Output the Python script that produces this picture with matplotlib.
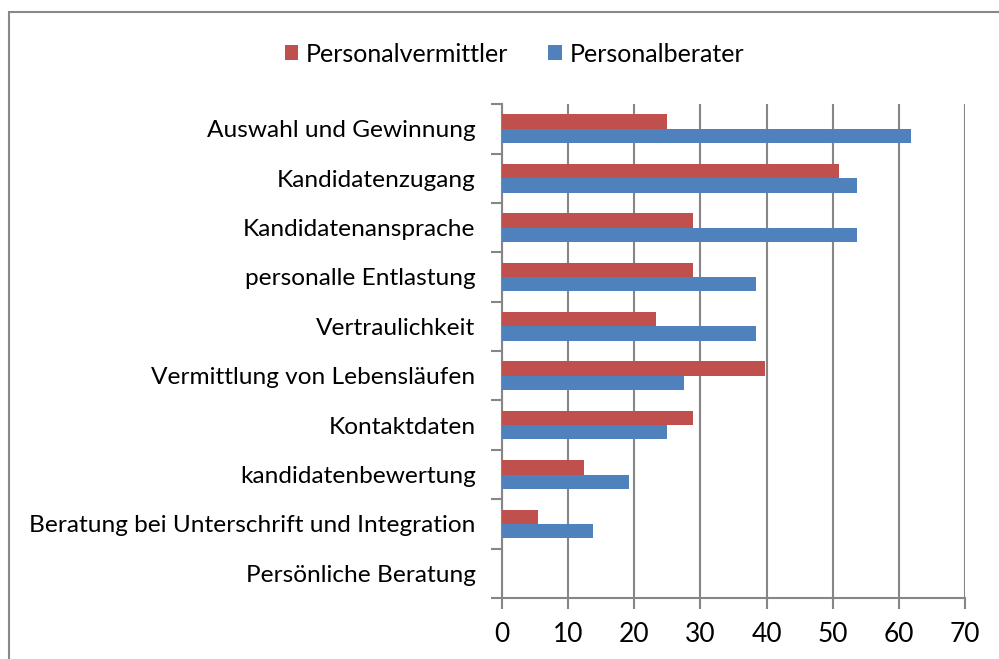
#!/usr/bin/env python3
import matplotlib
matplotlib.use("Agg")
import matplotlib.pyplot as plt
import numpy as np
from matplotlib.patches import Rectangle

# Categories from top to bottom
categories = [
    'Auswahl und Gewinnung',
    'Kandidatenzugang',
    'Kandidatenansprache',
    'personalle Entlastung',
    'Vertraulichkeit',
    'Vermittlung von Lebensläufen',
    'Kontaktdaten',
    'kandidatenbewertung',
    'Beratung bei Unterschrift und Integration',
    'Persönliche Beratung',
]
vermittler = [25, 50.9, 28.8, 28.8, 23.3, 39.8, 28.8, 12.4, 5.4, 0]
berater = [61.9, 53.6, 53.6, 38.4, 38.4, 27.5, 24.9, 19.2, 13.7, 0]
x_ticks = [0, 10, 20, 30, 40, 50, 60, 70]

RED = '#C0504D'
BLUE = '#4F81BD'
GRID = '#868686'

plt.rcParams['font.family'] = ['Lato', 'DejaVu Sans']

fig = plt.figure(figsize=(9.99, 6.59), dpi=100)
ax = fig.add_axes([0.5025, 0.0926, 0.4635, 0.7494])

pos = np.arange(len(categories))
h = 0.29
ax.barh(pos - h / 2, vermittler, h, color=RED, label='Personalvermittler', zorder=3)
ax.barh(pos + h / 2, berater, h, color=BLUE, label='Personalberater', zorder=3)

ax.set_xlim(0, 70)
ax.set_ylim(len(categories) - 0.5, -0.5)

# x axis
ax.set_xticks(x_ticks)
ax.set_xticklabels([str(v) for v in x_ticks], fontsize=19)
ax.xaxis.grid(True, color=GRID, linewidth=1.5, zorder=0)
ax.tick_params(axis='x', length=8, width=1.5, color=GRID, pad=9)

# y axis: ticks at category boundaries, labels at centers
ax.set_yticks(np.arange(-0.5, len(categories)), minor=False)
ax.set_yticklabels([])
ax.set_yticks(pos, minor=True)
ax.set_yticklabels(categories, minor=True, fontsize=17.6)
ax.tick_params(axis='y', which='major', length=8, width=1.5, color=GRID)
ax.tick_params(axis='y', which='minor', length=0, pad=19)

for side in ['top', 'right']:
    ax.spines[side].set_visible(False)
for side in ['left', 'bottom']:
    ax.spines[side].set_color(GRID)
    ax.spines[side].set_linewidth(1.5)

fig.legend(loc='center', bbox_to_anchor=(0.515, 0.918), ncol=2, frameon=False,
           fontsize=18, handlelength=0.55, handleheight=0.55, handletextpad=0.3,
           columnspacing=1.6)

# outer chart border
fig.add_artist(Rectangle((0.009, -0.1), 1.2, 1.1 - 12 / 659, transform=fig.transFigure,
                         fill=False, edgecolor='#888888', linewidth=1.5))

plt.savefig('out.png', dpi=100)
plt.close()
